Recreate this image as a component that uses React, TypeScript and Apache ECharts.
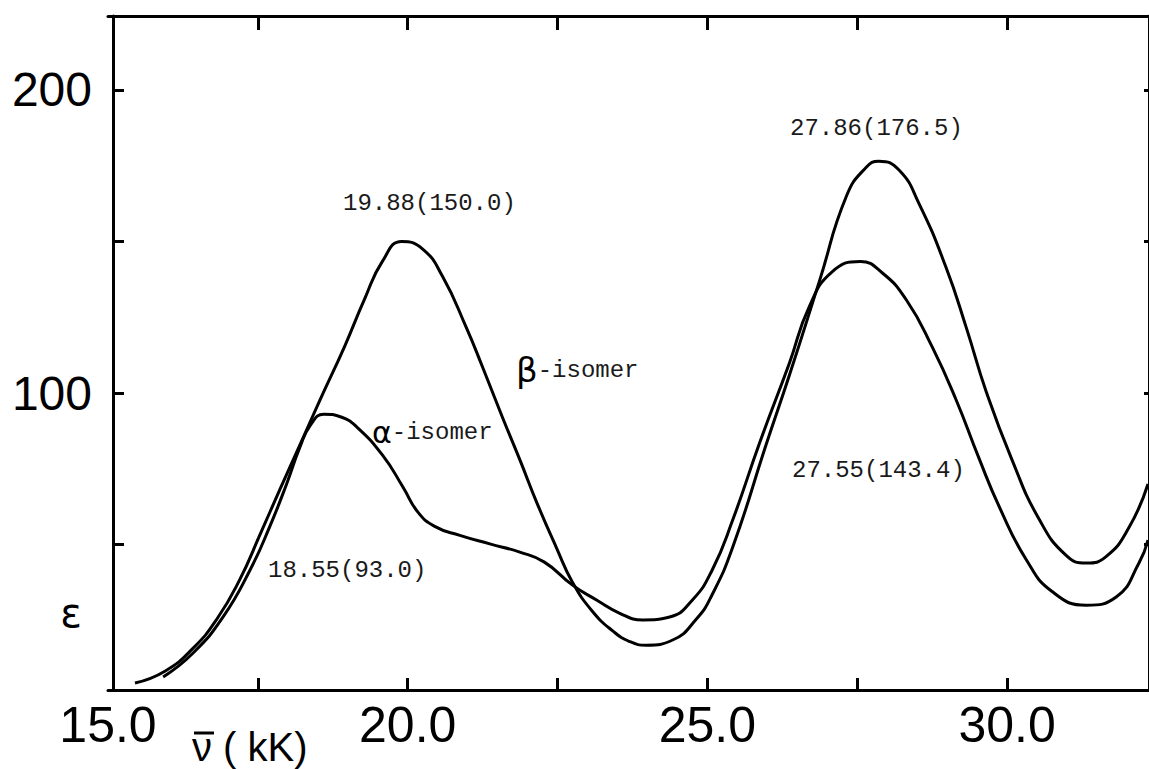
import React, { useEffect, useRef } from "react";
import * as echarts from "echarts";

// β-isomer absorption curve (wavenumber kK, ε)
const betaX = [15.45, 15.95, 16.42, 16.82, 17.2, 17.53, 17.87, 18.2, 18.53, 18.95, 19.28, 19.58, 19.9, 20.25, 20.58, 20.98, 21.25, 21.58, 21.87, 22.15, 22.48, 22.75, 23.08, 23.42, 23.7, 23.98, 24.42, 24.82, 25.08, 25.42, 25.98, 26.37, 26.87, 27.32, 27.65, 27.86, 28.2, 28.53, 28.98, 29.32, 29.65, 30.08, 30.53, 30.98, 31.32, 31.65, 32.03, 32.35];
const betaY = [4.3, 8.2, 15.8, 25.5, 38.5, 53.0, 68.3, 82.8, 97.4, 115.5, 131.0, 143.5, 150.0, 147.5, 138.5, 121.5, 108.5, 92.0, 78.0, 64.0, 49.0, 37.5, 28.0, 21.5, 18.0, 16.8, 18.5, 25.5, 33.5, 49.0, 83.0, 106.0, 137.0, 165.0, 174.5, 176.5, 173.5, 162.5, 141.5, 121.5, 100.5, 78.0, 58.5, 46.5, 43.9, 46.0, 55.5, 70.0];

// α-isomer absorption curve
const alphaX = [15.92, 16.42, 16.92, 17.37, 17.7, 17.98, 18.2, 18.38, 18.6, 18.9, 19.15, 19.58, 19.92, 20.17, 20.45, 20.87, 21.37, 21.87, 22.28, 22.75, 23.15, 23.53, 23.92, 24.37, 24.75, 25.08, 25.42, 25.87, 26.37, 26.7, 27.08, 27.55, 27.92, 28.32, 28.75, 29.15, 29.53, 29.87, 30.32, 30.75, 31.32, 31.82, 32.2, 32.35];
const alphaY = [6.3, 14.2, 26.1, 41.6, 56.0, 70.0, 82.0, 89.5, 93.0, 92.0, 88.8, 79.5, 69.0, 60.7, 56.0, 53.0, 50.2, 47.5, 44.2, 36.6, 31.7, 27.4, 25.1, 26.1, 31.7, 41.6, 58.0, 83.5, 110.0, 128.5, 140.0, 143.4, 139.6, 130.7, 115.2, 97.7, 78.5, 62.4, 45.0, 34.5, 30.0, 32.7, 43.9, 51.5];

const xTicks = [17.5, 20, 22.5, 25, 27.5, 30];
const xTickLabels = [15, 20, 25, 30];
const yTicks = [50, 100, 150, 200];
const yTickLabels = [100, 200];

const annotations = [
  { text: "19.88(150.0)", x: 343, y: 203 },
  { text: "18.55(93.0)", x: 268, y: 570 },
  { text: "27.86(176.5)", x: 790, y: 128 },
  { text: "27.55(143.4)", x: 792, y: 470 },
];

const MONO = "'Liberation Mono', 'DejaVu Sans Mono', monospace";
const HAND = "'Liberation Sans', 'DejaVu Sans', sans-serif";

export default function App() {
  const ref = useRef<HTMLDivElement>(null);
  useEffect(() => {
    if (!ref.current) return;
    const chart = echarts.init(ref.current, null, { renderer: "svg" });
    const beta = betaX.map((x, i) => [x, betaY[i]]);
    const alpha = alphaX.map((x, i) => [x, alphaY[i]]);
    const axisLine = { show: true, lineStyle: { color: "#000", width: 3 } };
    chart.setOption({
      animation: false,
      backgroundColor: "#fff",
      grid: { left: 108, top: 16, width: 1042, height: 674, containLabel: false },
      xAxis: [
        {
          type: "value",
          position: "bottom",
          min: 15,
          max: 32.367,
          axisLine,
          splitLine: { show: false },
          axisTick: { show: true, inside: true, length: 12, customValues: xTicks, lineStyle: { color: "#000", width: 3 } },
          axisLabel: {
            show: true,
            customValues: xTickLabels,
            formatter: (v: number) => v.toFixed(1),
            fontFamily: HAND,
            fontSize: 50,
            color: "#000",
            margin: 10,
          },
        },
        {
          type: "value",
          position: "top",
          min: 15,
          max: 32.367,
          axisLine,
          splitLine: { show: false },
          axisTick: { show: true, inside: true, length: 14, customValues: xTicks, lineStyle: { color: "#000", width: 3 } },
          axisLabel: { show: false },
        },
      ],
      yAxis: [
        {
          type: "value",
          position: "left",
          offset: -5,
          min: 2,
          max: 224.4,
          axisLine,
          splitLine: { show: false },
          axisTick: { show: true, inside: true, length: 11, customValues: yTicks, lineStyle: { color: "#000", width: 3 } },
          axisLabel: {
            show: true,
            customValues: yTickLabels,
            fontFamily: HAND,
            fontSize: 48,
            color: "#000",
            margin: 21,
          },
        },
        {
          type: "value",
          position: "right",
          min: 2,
          max: 224.4,
          axisLine,
          splitLine: { show: false },
          axisTick: { show: true, inside: true, length: 5, customValues: yTicks, lineStyle: { color: "#000", width: 3 } },
          axisLabel: { show: false },
        },
      ],
      series: [
        {
          name: "β-isomer",
          type: "line",
          data: beta,
          smooth: 0.5,
          showSymbol: false,
          lineStyle: { color: "#000", width: 3 },
        },
        {
          name: "α-isomer",
          type: "line",
          data: alpha,
          smooth: 0.5,
          showSymbol: false,
          lineStyle: { color: "#000", width: 3 },
        },
      ],
      graphic: [
        ...annotations.map((a) => ({
          type: "text",
          x: a.x,
          y: a.y,
          style: {
            text: a.text,
            fill: "#1a1a1a",
            font: `24px ${MONO}`,
            textAlign: "left",
            textVerticalAlign: "middle",
          },
        })),
        {
          type: "text",
          x: 516,
          y: 370,
          style: {
            text: "{g|β}{m|-isomer}",
            textAlign: "left",
            textVerticalAlign: "middle",
            rich: {
              g: { fontFamily: "'DejaVu Sans', sans-serif", fontSize: 34, fill: "#000", color: "#000" },
              m: { fontFamily: MONO, fontSize: 24, fill: "#1a1a1a", color: "#1a1a1a" },
            },
          },
        },
        {
          type: "text",
          x: 372,
          y: 432,
          style: {
            text: "{g|α}{m|-isomer}",
            textAlign: "left",
            textVerticalAlign: "middle",
            rich: {
              g: { fontFamily: "'DejaVu Sans', sans-serif", fontSize: 30, fill: "#000", color: "#000" },
              m: { fontFamily: MONO, fontSize: 24, fill: "#1a1a1a", color: "#1a1a1a" },
            },
          },
        },
        {
          type: "text",
          x: 71,
          y: 613,
          style: {
            text: "ε",
            fill: "#000",
            font: `40px 'DejaVu Sans', sans-serif`,
            textAlign: "center",
            textVerticalAlign: "middle",
          },
        },
        {
          type: "text",
          x: 192,
          y: 747,
          style: {
            text: "ν ( kK)",
            fill: "#000",
            font: `40px ${HAND}`,
            textAlign: "left",
            textVerticalAlign: "middle",
          },
        },
        {
          type: "line",
          shape: { x1: 194, y1: 733, x2: 214, y2: 733 },
          style: { stroke: "#000", lineWidth: 3 },
        },
      ],
    });
    return () => chart.dispose();
  }, []);
  return (
    <div
      ref={ref}
      style={{ position: "absolute", left: 0, top: 0, width: 1149, height: 769, overflow: "hidden", background: "#fff" }}
    />
  );
}
